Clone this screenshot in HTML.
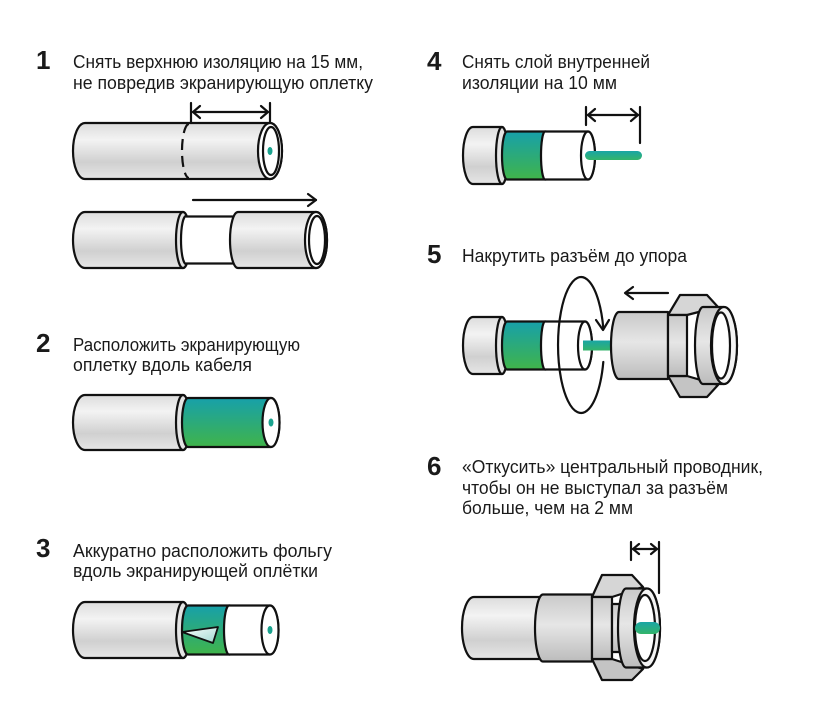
<!DOCTYPE html>
<html><head><meta charset="utf-8"><style>
html,body{margin:0;padding:0;background:#fff;}
svg{display:block;}
text{font-family:"Liberation Sans","DejaVu Sans",sans-serif;fill:#1a1a1a;}
.t{font-size:18px;}
.n{font-size:26px;font-weight:bold;}
</style></head><body>
<svg width="830" height="719" viewBox="0 0 830 719" xmlns="http://www.w3.org/2000/svg">
<defs>
<linearGradient id="gr" x1="0" y1="0" x2="0" y2="1">
<stop offset="0" stop-color="#dcdcdc"/><stop offset="0.3" stop-color="#f3f3f3"/><stop offset="0.7" stop-color="#d0d0d0"/><stop offset="1" stop-color="#e6e6e6"/>
</linearGradient>
<linearGradient id="mt" x1="0" y1="0" x2="0" y2="1">
<stop offset="0" stop-color="#c9c9c9"/><stop offset="0.45" stop-color="#e6e6e6"/><stop offset="1" stop-color="#bcbcbc"/>
</linearGradient>
<linearGradient id="gn" x1="0" y1="0" x2="0" y2="1">
<stop offset="0" stop-color="#17a0aa"/><stop offset="1" stop-color="#40b44a"/>
</linearGradient>
<linearGradient id="cd" x1="0" y1="0" x2="0" y2="1">
<stop offset="0" stop-color="#1aa5a5"/><stop offset="1" stop-color="#34b46a"/>
</linearGradient>
<linearGradient id="fl" x1="0" y1="0" x2="1" y2="1">
<stop offset="0" stop-color="#ffffff"/><stop offset="1" stop-color="#9fd8d0"/>
</linearGradient>
</defs>

<g stroke="#111" stroke-width="2.2" stroke-linejoin="round" stroke-linecap="round">

<!-- STEP 1 top -->
<path d="M85,123 L270,123 A12,28 0 0 1 270,179 L85,179 A12,28 0 0 1 85,123 Z" fill="url(#gr)"/>
<ellipse cx="270" cy="151" rx="12" ry="28" fill="#fff"/>
<ellipse cx="271" cy="151" rx="8" ry="24" fill="#fff"/>
<ellipse cx="270" cy="151" rx="2.5" ry="4" fill="#1aa38f" stroke="none"/>
<path d="M189,124 A7,27 0 0 0 189,178" fill="none" stroke-dasharray="11 6" stroke-linecap="butt"/>
<line x1="191" y1="103" x2="191" y2="123" fill="none"/>
<line x1="270" y1="103" x2="270" y2="122" fill="none"/>
<line x1="193" y1="112" x2="268" y2="112"/>
<polyline points="200,106 193,112 200,118" fill="none"/>
<polyline points="261,106 268,112 261,118" fill="none"/>

<!-- STEP 1 bottom -->
<path d="M85,212 L183,212 A7,28 0 0 1 183,268 L85,268 A12,28 0 0 1 85,212 Z" fill="url(#gr)"/>
<ellipse cx="183" cy="240" rx="7" ry="28" fill="#e4e4e4"/>
<ellipse cx="186" cy="240" rx="5" ry="24" fill="#fff"/>
<rect x="186" y="216.5" width="52" height="47" fill="#fff" stroke="none"/>
<line x1="186" y1="216.5" x2="238" y2="216.5"/>
<line x1="186" y1="263.5" x2="238" y2="263.5"/>
<path d="M238,212 L316,212 A11,28 0 0 1 316,268 L238,268 A8,28 0 0 1 238,212 Z" fill="url(#gr)"/>
<ellipse cx="316" cy="240" rx="11" ry="28" fill="#fff"/>
<ellipse cx="317" cy="240" rx="8" ry="24" fill="#fff"/>
<line x1="193" y1="200" x2="316" y2="200"/>
<polyline points="308,194 316,200 308,206" fill="none"/>

<!-- STEP 2 -->
<path d="M85,395 L183,395 A7,27.5 0 0 1 183,450 L85,450 A12,27.5 0 0 1 85,395 Z" fill="url(#gr)"/>
<ellipse cx="183" cy="422.5" rx="7" ry="27.5" fill="#e4e4e4"/>
<path d="M188,398 L271,398 A8.5,24.5 0 0 1 271,447 L188,447 A6,24.5 0 0 1 188,398 Z" fill="url(#gn)"/>
<ellipse cx="271" cy="422.5" rx="8.5" ry="24.5" fill="#fff"/>
<ellipse cx="271" cy="422.5" rx="2.5" ry="4" fill="#1aa38f" stroke="none"/>

<!-- STEP 3 -->
<path d="M85,602 L183,602 A7,28 0 0 1 183,658 L85,658 A12,28 0 0 1 85,602 Z" fill="url(#gr)"/>
<ellipse cx="183" cy="630" rx="7" ry="28" fill="#e4e4e4"/>
<path d="M188,605.5 L230,605.5 L230,654.5 L188,654.5 A6,24.5 0 0 1 188,605.5 Z" fill="url(#gn)"/>
<path d="M229,605.5 L270,605.5 A8.5,24.5 0 0 1 270,654.5 L229,654.5 A5,24.5 0 0 1 229,605.5 Z" fill="#fff"/>
<ellipse cx="270" cy="630" rx="8.5" ry="24.5" fill="#fff"/>
<ellipse cx="270" cy="630" rx="2.5" ry="4" fill="#1aa38f" stroke="none"/>
<polygon points="182,632 218,627 213,643" fill="url(#fl)" stroke-width="1.8"/>

<!-- STEP 4 -->
<path d="M473,127 L502,127 A6,28.5 0 0 1 502,184 L473,184 A10,28.5 0 0 1 473,127 Z" fill="url(#gr)"/>
<ellipse cx="502" cy="155.5" rx="6" ry="28.5" fill="#e4e4e4"/>
<path d="M507,131.5 L546,131.5 L546,179.5 L507,179.5 A5,24 0 0 1 507,131.5 Z" fill="url(#gn)"/>
<path d="M545,131.5 L588,131.5 A7,24 0 0 1 588,179.5 L545,179.5 A4,24 0 0 1 545,131.5 Z" fill="#fff"/>
<ellipse cx="588" cy="155.5" rx="7" ry="24" fill="#fff"/>
<rect x="585" y="151" width="57" height="9" rx="4.5" fill="url(#cd)" stroke="none"/>
<line x1="586" y1="107" x2="586" y2="125"/>
<line x1="640" y1="107" x2="640" y2="143"/>
<line x1="588" y1="115" x2="638" y2="115"/>
<polyline points="595,109 588,115 595,121" fill="none"/>
<polyline points="631,109 638,115 631,121" fill="none"/>

<!-- STEP 5 -->
<path d="M473,317 L502,317 A6,28.5 0 0 1 502,374 L473,374 A10,28.5 0 0 1 473,317 Z" fill="url(#gr)"/>
<ellipse cx="502" cy="345.5" rx="6" ry="28.5" fill="#e4e4e4"/>
<path d="M507,321.5 L546,321.5 L546,369.5 L507,369.5 A5,24 0 0 1 507,321.5 Z" fill="url(#gn)"/>
<path d="M545,321.5 L585,321.5 A7,24 0 0 1 585,369.5 L545,369.5 A4,24 0 0 1 545,321.5 Z" fill="#fff"/>
<ellipse cx="585" cy="345.5" rx="7" ry="24" fill="#fff"/>
<rect x="583" y="340.5" width="30" height="10" fill="url(#cd)" stroke="none"/>
<path d="M603.3,362 A23,68 0 1 1 603.3,328" fill="none"/>
<polyline points="596,320 603,330 609,320" fill="none"/>
<line x1="626" y1="293" x2="668" y2="293"/>
<polyline points="633,287 625,293 633,299" fill="none"/>
<!-- connector 5 -->
<path d="M619,312 L668,312 L668,379 L619,379 A8,33.5 0 0 1 619,312 Z" fill="url(#mt)"/>
<polygon points="668,315 680,295 707,295 718,307 687,315" fill="#d6d6d6"/>
<polygon points="668,376 680,397 707,397 718,385 687,376" fill="#c4c4c4"/>
<rect x="668" y="315" width="19" height="61" fill="url(#mt)"/>
<path d="M703,307 L724,307 A13,38.5 0 0 1 724,384 L703,384 A8,38.5 0 0 1 703,307 Z" fill="url(#mt)"/>
<ellipse cx="724" cy="345.5" rx="13" ry="38.5" fill="#f4f4f4"/>
<ellipse cx="721" cy="345.5" rx="9" ry="33" fill="#fff"/>

<!-- STEP 6 -->
<path d="M474,597 L548,597 L548,659 L474,659 A12,31 0 0 1 474,597 Z" fill="url(#gr)"/>
<path d="M543,594.5 L592,594.5 L592,661.5 L543,661.5 A8,33.5 0 0 1 543,594.5 Z" fill="url(#mt)"/>
<polygon points="592,597 602,575 632,575 643,587 612,597" fill="#d6d6d6"/>
<polygon points="592,659 602,680 632,680 643,669 612,659" fill="#c4c4c4"/>
<rect x="592" y="597" width="20" height="62" fill="url(#mt)"/>
<rect x="612" y="604" width="12" height="48" fill="url(#mt)"/>
<path d="M626,588.5 L647,588.5 A13,39.5 0 0 1 647,667.5 L626,667.5 A8,39.5 0 0 1 626,588.5 Z" fill="url(#mt)"/>
<ellipse cx="647" cy="628" rx="13" ry="39.5" fill="#f4f4f4"/>
<ellipse cx="645" cy="628" rx="10" ry="33" fill="#fff"/>
<rect x="635" y="622" width="25" height="12" rx="6" fill="url(#cd)" stroke="none"/>
<line x1="631" y1="542" x2="631" y2="560"/>
<line x1="659" y1="542" x2="659" y2="593"/>
<line x1="633" y1="549" x2="657" y2="549"/>
<polyline points="639,544 633,549 639,554" fill="none"/>
<polyline points="651,544 657,549 651,554" fill="none"/>
</g>

<!-- TEXT -->
<text class="n" x="36" y="69">1</text>
<text class="t" x="73" y="68" textLength="290" lengthAdjust="spacingAndGlyphs">Снять верхнюю изоляцию на 15 мм,</text>
<text class="t" x="73" y="89" textLength="300" lengthAdjust="spacingAndGlyphs">не повредив экранирующую оплетку</text>

<text class="n" x="36" y="352">2</text>
<text class="t" x="73" y="351" textLength="227" lengthAdjust="spacingAndGlyphs">Расположить экранирующую</text>
<text class="t" x="73" y="371" textLength="179" lengthAdjust="spacingAndGlyphs">оплетку вдоль кабеля</text>

<text class="n" x="36" y="557">3</text>
<text class="t" x="73" y="557" textLength="259" lengthAdjust="spacingAndGlyphs">Аккуратно расположить фольгу</text>
<text class="t" x="73" y="577" textLength="245" lengthAdjust="spacingAndGlyphs">вдоль экранирующей оплётки</text>

<text class="n" x="427" y="70">4</text>
<text class="t" x="462" y="68" textLength="188" lengthAdjust="spacingAndGlyphs">Снять слой внутренней</text>
<text class="t" x="462" y="89" textLength="155" lengthAdjust="spacingAndGlyphs">изоляции на 10 мм</text>

<text class="n" x="427" y="263">5</text>
<text class="t" x="462" y="262" textLength="225" lengthAdjust="spacingAndGlyphs">Накрутить разъём до упора</text>

<text class="n" x="427" y="475">6</text>
<text class="t" x="462" y="473" textLength="301" lengthAdjust="spacingAndGlyphs">«Откусить» центральный проводник,</text>
<text class="t" x="462" y="494" textLength="266" lengthAdjust="spacingAndGlyphs">чтобы он не выступал за разъём</text>
<text class="t" x="462" y="514" textLength="171" lengthAdjust="spacingAndGlyphs">больше, чем на 2 мм</text>
</svg>
</body></html>
